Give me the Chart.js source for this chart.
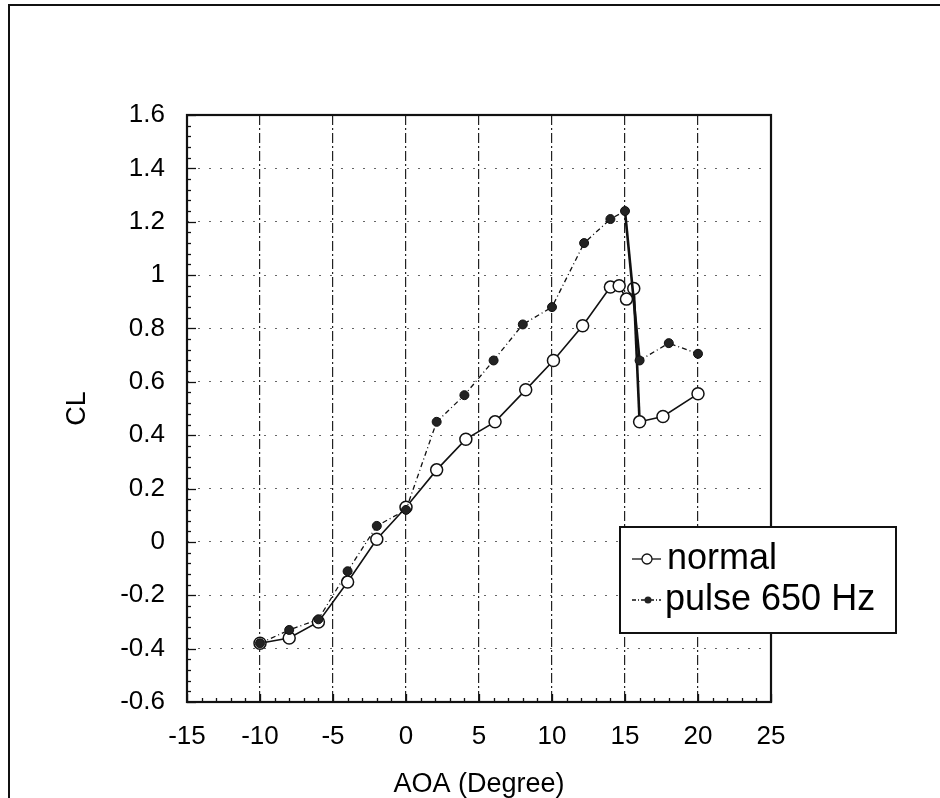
<!DOCTYPE html>
<html>
<head>
<meta charset="utf-8">
<script src="https://cdn.jsdelivr.net/npm/chart.js@4/dist/chart.umd.min.js"></script>
<style>
  html, body { margin: 0; padding: 0; background: #fff; }
  canvas { display: block; }
</style>
</head>
<body>
<canvas id="c" width="940" height="798"></canvas>
<script>
// ---- data ----
const normalAoa = [-10, -8, -6, -4, -2, 0, 2.1, 4.1, 6.1, 8.2, 10.1, 12.1, 14, 14.6, 15.1, 15.6, 16, 17.6, 20];
const normalCl  = [-0.38, -0.36, -0.30, -0.15, 0.01, 0.13, 0.27, 0.385, 0.45, 0.57, 0.68, 0.81, 0.955, 0.96, 0.91, 0.95, 0.45, 0.47, 0.555];

const pulseAoa = [-10, -8, -6, -4, -2, 0, 2.1, 4, 6, 8, 10, 12.2, 14, 15, 16, 18, 20];
const pulseCl  = [-0.38, -0.33, -0.29, -0.11, 0.06, 0.12, 0.45, 0.55, 0.68, 0.815, 0.88, 1.12, 1.21, 1.24, 0.68, 0.745, 0.705];

const seriesNames = ['normal', 'pulse 650 Hz'];
const xTickLabels = ['-15', '-10', '-5', '0', '5', '10', '15', '20', '25'];
const yTickLabels = ['-0.6', '-0.4', '-0.2', '0', '0.2', '0.4', '0.6', '0.8', '1', '1.2', '1.4', '1.6'];
const xTitle = 'AOA (Degree)';
const yTitle = 'CL';

const FONT = '"Liberation Sans", Arial, Helvetica, sans-serif';

function toXY(xs, ys) { return xs.map((x, i) => ({ x: x, y: ys[i] })); }

const decor = {
  id: 'decor',
  beforeDraw(chart) {
    const ctx = chart.ctx;
    ctx.save();
    ctx.fillStyle = '#fff';
    ctx.fillRect(0, 0, chart.width, chart.height);
    ctx.strokeStyle = '#111';
    ctx.lineWidth = 2;
    ctx.beginPath();
    ctx.moveTo(9, chart.height);
    ctx.lineTo(9, 5);
    ctx.lineTo(chart.width, 5);
    ctx.stroke();
    ctx.restore();
  },
  afterDraw(chart) {
    const ctx = chart.ctx;
    const ca = chart.chartArea;
    const xs = chart.scales.x, ys = chart.scales.y;
    ctx.save();
    ctx.strokeStyle = '#111';
    ctx.lineWidth = 1.3;
    // inward minor/major ticks on x axis
    for (let v = -15; v <= 25; v++) {
      const px = Math.round(xs.getPixelForValue(v)) + 0.5;
      const len = (v % 5 === 0) ? 8 : 4;
      ctx.beginPath();
      ctx.moveTo(px, ca.bottom);
      ctx.lineTo(px, ca.bottom - len);
      ctx.stroke();
    }
    // inward minor/major ticks on y axis
    for (let k = 0; k <= 55; k++) {
      const v = -0.6 + k * 0.04;
      const py = Math.round(ys.getPixelForValue(v)) + 0.5;
      const len = (k % 5 === 0) ? 9 : 4;
      ctx.beginPath();
      ctx.moveTo(ca.left, py);
      ctx.lineTo(ca.left + len, py);
      ctx.stroke();
    }
    // plot frame
    ctx.lineWidth = 2.2;
    ctx.strokeRect(ca.left, ca.top, ca.right - ca.left, ca.bottom - ca.top);

    // legend box
    const lx = 620, ly = 527, lw = 276, lh = 106;
    ctx.fillStyle = '#fff';
    ctx.fillRect(lx, ly, lw, lh);
    ctx.lineWidth = 2;
    ctx.strokeStyle = '#111';
    ctx.strokeRect(lx, ly, lw, lh);

    // normal sample
    const y1 = 559, y2 = 600;
    ctx.lineWidth = 1.3;
    ctx.setLineDash([]);
    ctx.beginPath(); ctx.moveTo(632, y1); ctx.lineTo(661, y1); ctx.stroke();
    ctx.beginPath(); ctx.arc(647, y1, 5, 0, Math.PI * 2);
    ctx.fillStyle = '#fff'; ctx.fill(); ctx.stroke();
    // pulse sample
    ctx.setLineDash([4, 2, 1, 2]);
    ctx.beginPath(); ctx.moveTo(632, y2); ctx.lineTo(661, y2); ctx.stroke();
    ctx.setLineDash([]);
    ctx.beginPath(); ctx.arc(648, y2, 3.5, 0, Math.PI * 2);
    ctx.fillStyle = '#222'; ctx.fill();

    ctx.fillStyle = '#000';
    ctx.font = '36px ' + FONT;
    ctx.textBaseline = 'alphabetic';
    ctx.textAlign = 'left';
    ctx.fillText(seriesNames[0], 667, 569);
    ctx.fillText(seriesNames[1], 665, 610);
    ctx.restore();
  }
};

new Chart(document.getElementById('c'), {
  type: 'line',
  data: {
    datasets: [
      {
        label: seriesNames[1],
        data: toXY(pulseAoa, pulseCl),
        order: 0,
        borderColor: '#111',
        borderWidth: 1.3,
        borderDash: [5, 3, 1, 3],
        pointStyle: 'circle',
        pointRadius: 4.5,
        pointBackgroundColor: '#222',
        pointBorderColor: '#111',
        pointBorderWidth: 1,
        tension: 0,
        fill: false,
        segment: {
          borderDash: c => (c.p0DataIndex === 13 ? [] : undefined),
          borderWidth: c => (c.p0DataIndex === 13 ? 2.6 : undefined)
        }
      },
      {
        label: seriesNames[0],
        data: toXY(normalAoa, normalCl),
        order: 1,
        borderColor: '#111',
        borderWidth: 1.6,
        pointStyle: 'circle',
        pointRadius: 6,
        pointBackgroundColor: '#fff',
        pointBorderColor: '#111',
        pointBorderWidth: 1.5,
        tension: 0,
        fill: false,
        segment: {
          borderWidth: c => (c.p0DataIndex === 15 ? 2.6 : undefined)
        }
      }
    ]
  },
  options: {
    responsive: false,
    maintainAspectRatio: false,
    animation: false,
    layout: { padding: { left: 0, right: 169, top: 115, bottom: 0 } },
    plugins: { legend: { display: false }, tooltip: { enabled: false } },
    scales: {
      x: {
        type: 'linear',
        min: -15, max: 25,
        afterFit: s => { s.height = 96; },
        ticks: {
          stepSize: 5,
          padding: 19,
          color: '#000',
          font: { family: FONT, size: 26 },
          maxRotation: 0,
          callback: (v) => xTickLabels[Math.round((v + 15) / 5)]
        },
        grid: {
          drawTicks: false,
          color: c => (c.tick && (c.tick.value === -15 || c.tick.value === 25)) ? 'rgba(0,0,0,0)' : '#222',
          lineWidth: 1.2
        },
        border: { display: false, dash: [10, 3, 2, 3] },
        title: {
          display: true,
          text: xTitle,
          color: '#000',
          font: { family: FONT, size: 27, lineHeight: 1 },
          padding: { top: 0, bottom: 0 }
        }
      },
      y: {
        type: 'linear',
        min: -0.6, max: 1.6,
        afterFit: s => { s.width = 187; },
        ticks: {
          stepSize: 0.2,
          padding: 22,
          color: '#000',
          font: { family: FONT, size: 26 },
          callback: (v) => yTickLabels[Math.round((v + 0.6) / 0.2)]
        },
        grid: {
          drawTicks: false,
          color: c => (c.tick && (Math.abs(c.tick.value - 1.6) < 1e-6 || Math.abs(c.tick.value + 0.6) < 1e-6)) ? 'rgba(0,0,0,0)' : '#666',
          lineWidth: 1
        },
        border: { display: false, dash: [2, 9] },
        title: {
          display: true,
          text: yTitle,
          color: '#000',
          font: { family: FONT, size: 27, lineHeight: 1.2 },
          padding: { top: 61, bottom: 0 }
        }
      }
    }
  },
  plugins: [decor]
});
</script>
</body>
</html>
